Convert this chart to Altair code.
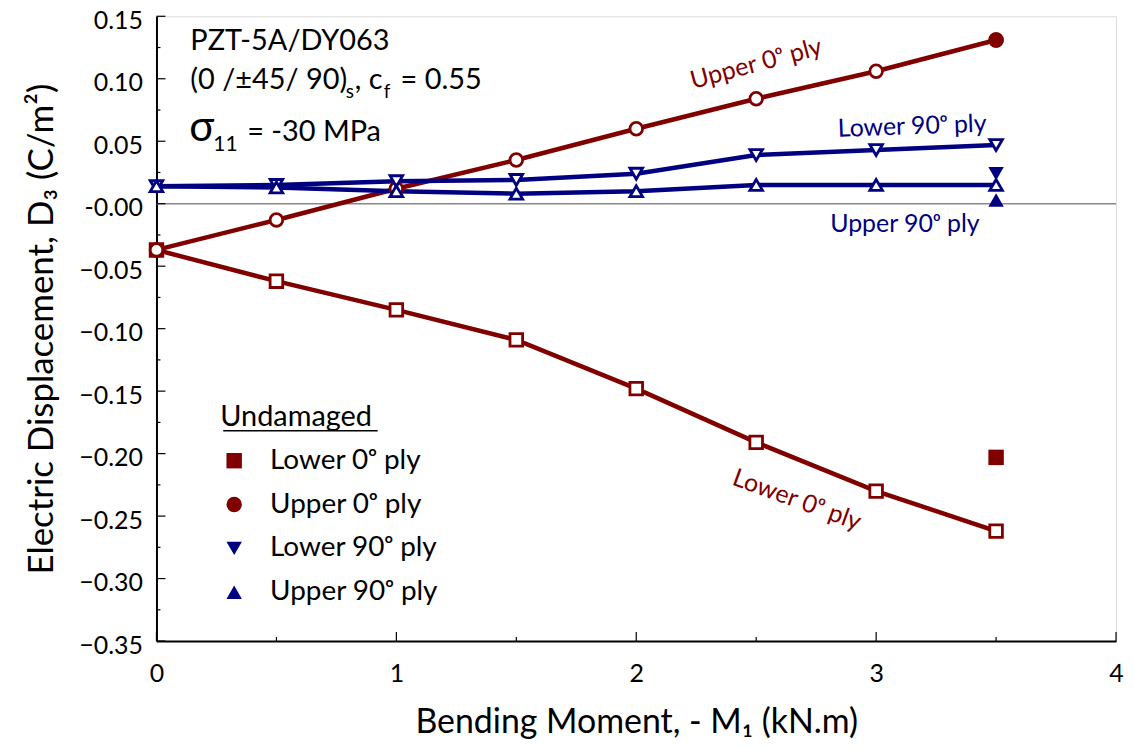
import altair as alt
import pandas as pd

# ---------------- data ----------------
x_vals = [0.0, 0.5, 1.0, 1.5, 2.0, 2.5, 3.0, 3.5]
lower0 = [-0.037, -0.062, -0.085, -0.109, -0.148, -0.191, -0.230, -0.262]
upper0 = [-0.037, -0.013, 0.012, 0.035, 0.060, 0.084, 0.106, 0.131]
lower90 = [0.014, 0.015, 0.018, 0.019, 0.024, 0.039, 0.043, 0.047]
upper90 = [0.014, 0.013, 0.010, 0.008, 0.010, 0.015, 0.015, 0.015]

series_names = ["Lower 0ᵒ ply", "Upper 0ᵒ ply", "Lower 90ᵒ ply", "Upper 90ᵒ ply"]
series_colors = ["#800000", "#800000", "#000080", "#000080"]
series_shapes = ["square", "circle", "triangle-down", "triangle-up"]

undamaged_x = [3.5, 3.5, 3.5, 3.5]
undamaged_vals = [-0.203, 0.131, 0.024, 0.003]

y_major = [-0.35, -0.30, -0.25, -0.20, -0.15, -0.10, -0.05, 0.0, 0.05, 0.10, 0.15]
y_minor = [-0.325, -0.275, -0.225, -0.175, -0.125, -0.075, -0.025, 0.025, 0.075, 0.125]
x_major = [0, 1, 2, 3, 4]
x_minor = [0.5, 1.5, 2.5, 3.5]

line_label_text = ["Upper 0ᵒ ply", "Lower 90ᵒ ply", "Upper 90ᵒ ply", "Lower 0ᵒ ply"]
line_label_x = [2.50, 3.15, 3.12, 2.67]
line_label_y = [0.112, 0.062, -0.016, -0.237]
line_label_angle = [345, 358, 0, 20]
line_label_color = ["#800000", "#000080", "#000080", "#800000"]

# ---------------- tables ----------------
rows = []
for name, vals in zip(series_names, [lower0, upper0, lower90, upper90]):
    for xv, yv in zip(x_vals, vals):
        rows.append({"series": name, "x": xv, "y": yv})
df = pd.DataFrame(rows)
df_und = pd.DataFrame({"series": series_names, "x": undamaged_x, "y": undamaged_vals})

W, H = 963, 627
FONT = "Lato"

xscale = alt.Scale(domain=[0, 4], nice=False, zero=False)
yscale = alt.Scale(domain=[-0.35, 0.15], nice=False, zero=False)
cscale = alt.Scale(domain=series_names, range=series_colors)
sscale = alt.Scale(domain=series_names, range=series_shapes)

xaxis = alt.Axis(
    values=x_major, format="d", ticks=False, grid=False, labelFlush=False,
    domainColor="black", domainWidth=2,
    labelFont=FONT, labelFontSize=25, labelColor="black", labelPadding=21,
    title="Bending Moment, - M₁ (kN.m)", titleFont=FONT, titleFontSize=34,
    titleFontWeight="normal", titleColor="black", titlePadding=19,
)
yaxis = alt.Axis(
    values=y_major, ticks=False, grid=False, labelFlush=False,
    labelExpr="datum.value == 0 ? '-0.00' : format(datum.value, '.2f')",
    labelOffset=4,
    domainColor="black", domainWidth=2,
    labelFont=FONT, labelFontSize=25, labelColor="black", labelPadding=14,
    title="Electric Displacement,  D₃  (C/m²)", titleFont=FONT, titleFontSize=35,
    titleFontWeight="normal", titleColor="black", titlePadding=19,
)
legend = alt.Legend(
    title="Undamaged", orient="none", legendX=64, legendY=388,
    titleFont=FONT, titleFontSize=29, titleFontWeight="normal", titleColor="black",
    titlePadding=15, labelFont=FONT, labelFontSize=28, labelColor="black",
    labelLimit=400, titleLimit=400,
    labelOffset=22, rowPadding=16, symbolSize=240, symbolStrokeWidth=0, padding=0,
)


def X(field):
    return alt.X(field, scale=xscale, axis=xaxis)


def Y(field):
    return alt.Y(field, scale=yscale, axis=yaxis)


C = alt.Color("series:N", scale=cscale, legend=legend)
S = alt.Shape("series:N", scale=sscale, legend=legend)

base = alt.Chart(df)

zero_line = alt.Chart(pd.DataFrame({"y": [0.0]})).mark_rule(color="#888888", strokeWidth=1.5).encode(
    y=Y("y:Q")
)

lines = base.mark_line(strokeWidth=4.5).encode(
    x=X("x:Q"), y=Y("y:Q"), color=C, detail="series:N",
)

open_pts = base.mark_point(fill="white", filled=False, strokeWidth=2.8, size=160, opacity=1).encode(
    x=X("x:Q"), y=Y("y:Q"), color=C, shape=S,
)

filled_pts = alt.Chart(df_und).mark_point(filled=True, size=240, opacity=1).encode(
    x=X("x:Q"), y=Y("y:Q"), color=C, shape=S,
)

underline = alt.Chart(pd.DataFrame({"a": [0]})).mark_rule(color="black", strokeWidth=1.5).encode(
    x=alt.value(67), x2=alt.value(222), y=alt.value(416)
)

# inward ticks
ymaj = alt.Chart(pd.DataFrame({"y": y_major})).mark_rule(color="black", strokeWidth=1.2).encode(
    y=Y("y:Q"), x=alt.value(0), x2=alt.value(9)
)
ymin = alt.Chart(pd.DataFrame({"y": y_minor})).mark_rule(color="black", strokeWidth=1.2).encode(
    y=Y("y:Q"), x=alt.value(0), x2=alt.value(4)
)
xmaj = alt.Chart(pd.DataFrame({"x": x_major})).mark_rule(color="black", strokeWidth=1.2).encode(
    x=X("x:Q"), y=alt.value(H), y2=alt.value(H - 9)
)
xmin = alt.Chart(pd.DataFrame({"x": x_minor})).mark_rule(color="black", strokeWidth=1.2).encode(
    x=X("x:Q"), y=alt.value(H), y2=alt.value(H - 4)
)

# line labels
lbl_df = pd.DataFrame({"t": line_label_text, "x": line_label_x, "y": line_label_y})
label_layers = []
for i in range(len(line_label_text)):
    label_layers.append(
        alt.Chart(lbl_df.iloc[[i]]).mark_text(
            font=FONT, fontSize=25, color=line_label_color[i], angle=line_label_angle[i],
            align="center", baseline="middle",
        ).encode(x=X("x:Q"), y=Y("y:Q"), text="t:N")
    )


def txt(t, x, y, size):
    return alt.Chart(pd.DataFrame({"a": [0]})).mark_text(
        font=FONT, fontSize=size, color="black", align="left", baseline="alphabetic"
    ).encode(x=alt.value(x), y=alt.value(y), text=alt.value(t))


ann = [
    txt("PZT-5A/DY063", 34, 34, 29),
    txt("(0 /±45/ 90)", 34, 73, 29),
    txt("s", 190, 82, 19),
    txt(", c", 199, 73, 29),
    txt("f", 228, 82, 19),
    txt("= 0.55", 245, 73, 29),
    txt("σ", 33, 125, 42),
    txt("11", 57, 135, 21),
    txt("= -30 MPa", 91, 125, 29),
]

chart = alt.layer(
    zero_line, lines, open_pts, filled_pts, underline, ymaj, ymin, xmaj, xmin,
    *label_layers, *ann
).properties(
    width=W, height=H,
    padding={"left": 149, "top": 7, "right": 10, "bottom": 100},
    autosize=alt.AutoSizeParams(type="none"),
).configure_view(strokeWidth=0).configure(background="white")

chart.save("out.html", embed_options={"renderer": "svg", "actions": False})
